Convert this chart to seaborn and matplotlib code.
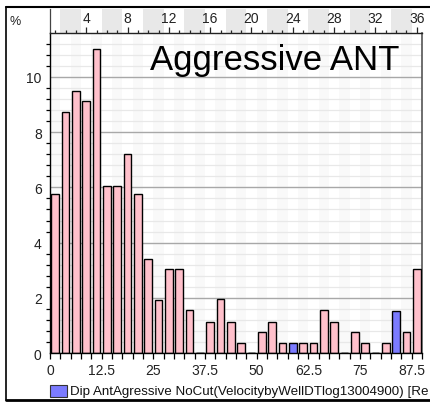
import numpy as np
import pandas as pd
import matplotlib
matplotlib.use("Agg")
import matplotlib.pyplot as plt
from matplotlib.ticker import MultipleLocator, FixedLocator
from matplotlib.patches import Rectangle
from matplotlib.lines import Line2D
import seaborn as sns

# Dip histogram, 2.5 degree bins from 0 to 90, values in percent
bin_width = 2.5
bin_edges = np.arange(0, 90 + bin_width, bin_width)
bin_centers = bin_edges[:-1] + bin_width / 2
pct_pink = [5.75, 8.75, 9.5, 9.12, 11.0, 6.06, 6.06, 7.2, 5.75, 3.4,
            1.92, 3.04, 3.04, 1.55, 0.0, 1.14, 1.94, 1.14, 0.38, 0.0,
            0.76, 1.14, 0.38, 0.0, 0.38, 0.38, 1.55, 1.14, 0.0, 0.76,
            0.38, 0.0, 0.38, 0.0, 0.76, 3.04]
pct_blue = [0.0] * 36
pct_blue[23] = 0.38
pct_blue[33] = 1.52
x_tick_labels = ["0", "12.5", "25", "37.5", "50", "62.5", "75", "87.5"]
top_tick_labels = ["4", "8", "12", "16", "20", "24", "28", "32", "36"]
y_tick_labels = ["0", "2", "4", "6", "8", "10"]
legend_label = "Dip AntAgressive NoCut(VelocitybyWellDTlog13004900) [Re"
title_text = "Aggressive ANT"

sns.set_style("white")
plt.rcParams["font.family"] = ["Liberation Sans", "DejaVu Sans"]

W, H = 430, 406
fig = plt.figure(figsize=(W / 100, H / 100), dpi=100)


def rect(l, t, r, b):
    return [l / W, 1 - b / H, (r - l) / W, (b - t) / H]


df = pd.DataFrame({"center": bin_centers, "pink": pct_pink, "blue": pct_blue})

# header strip with alternating shaded bands
strip = fig.add_axes(rect(50, 10, 422, 34))
strip.set_xlim(0, 36)
strip.set_ylim(0, 1)
for k in range(36):
    if k % 4 in (1, 2):
        strip.axvspan(k, k + 1, color="#e8e8e8", lw=0)
strip.set_xticks([])
strip.set_yticks([])
for s in ("top", "right", "bottom"):
    strip.spines[s].set_visible(False)
strip.spines["left"].set_color("#444444")
strip.spines["left"].set_linewidth(0.9)

ax = fig.add_axes(rect(50, 34, 422, 354))
ax.set_xlim(0, 90)
ax.set_ylim(0, 320 / 27.6)

# faint column banding
for k in range(0, 36, 2):
    ax.axvspan(bin_edges[k], bin_edges[k + 1], color="#f9f9f9", lw=0, zorder=0)

ax.yaxis.set_major_locator(MultipleLocator(2))
ax.yaxis.set_minor_locator(MultipleLocator(0.4))
ax.set_axisbelow(True)
ax.grid(which="major", axis="y", color="#a8a8a8", lw=1.0, zorder=1)
ax.grid(which="minor", axis="y", color="#e8e8e8", lw=0.9, zorder=1)

bar_kw = dict(binwidth=bin_width, binrange=(0, 90), shrink=0.72,
              edgecolor="black", linewidth=1.0, alpha=1, ax=ax, zorder=3)
sns.histplot(data=df, x="center", weights="pink", color="#ffc0cb", **bar_kw)
sns.histplot(data=df, x="center", weights="blue", color="#7b7bff", **bar_kw)
ax.set_xlabel("")
ax.set_ylabel("")
ax.set_xlim(0, 90)
ax.set_ylim(0, 320 / 27.6)

ax.set_yticks(np.arange(0, 11, 2))
ax.set_yticklabels(y_tick_labels)
ax.xaxis.set_major_locator(FixedLocator(np.arange(0, 90, 12.5)))
ax.set_xticklabels(x_tick_labels)
ax.xaxis.set_minor_locator(FixedLocator(bin_edges))
ax.tick_params(axis="both", which="major", labelsize=10, labelcolor="#222222",
               color="black", width=0.9)
ax.tick_params(axis="y", which="major", direction="out", length=5, pad=1)
ax.tick_params(axis="y", which="minor", direction="out", length=3, width=0.9,
               color="black", left=True)
ax.tick_params(axis="x", which="major", direction="out", length=4, pad=3)
ax.tick_params(axis="x", which="minor", direction="out", length=4, width=0.9,
               color="black", bottom=True)

for s in ("left", "bottom"):
    ax.spines[s].set_color("black")
    ax.spines[s].set_linewidth(1.0)
ax.spines["right"].set_color("#555555")
ax.spines["right"].set_linewidth(1.2)
ax.spines["top"].set_color("#222222")
ax.spines["top"].set_linewidth(1.0)

# bin index axis along the top
top = ax.twiny()
top.set_xlim(0.5, 36.5)
top.set_xticks(np.arange(4, 37, 4))
top.set_xticklabels(top_tick_labels)
top.xaxis.set_minor_locator(MultipleLocator(1))
top.tick_params(axis="x", which="major", direction="out", length=4, width=0.9,
                labelsize=10, labelcolor="#222222", pad=2)
top.tick_params(axis="x", which="minor", direction="out", length=2.5, width=0.9)
for s in ("left", "right", "bottom", "top"):
    top.spines[s].set_visible(False)

ax.text((150 - 50) / 372, (354 - 70) / 320, title_text,
        transform=ax.transAxes, fontsize=25, ha="left", va="baseline",
        color="black", zorder=10)

fig.text(10 / W, 1 - 22 / H, "%", fontsize=9, ha="left", va="center",
         color="#222222")

# legend entry
fig.patches.append(Rectangle((50 / W, 1 - 398 / H), 17 / W, 12 / H,
                             transform=fig.transFigure, facecolor="#7b7bff",
                             edgecolor="#333333", lw=0.8))
fig.text(70 / W, 1 - 392 / H, legend_label, fontsize=9.6, ha="left",
         va="center", color="#111111")

# outer frame
fig.lines.append(Line2D([6 / W, 1.0], [1 - 7.5 / H, 1 - 7.5 / H],
                        transform=fig.transFigure, color="black", lw=1.5))
fig.lines.append(Line2D([6 / W, 6 / W], [1 - 7.5 / H, 1 - 401 / H],
                        transform=fig.transFigure, color="black", lw=1.2))
fig.lines.append(Line2D([6 / W, 1.0], [1 - 401 / H, 1 - 401 / H],
                        transform=fig.transFigure, color="black", lw=2.0))

fig.savefig("out.png", dpi=100)
